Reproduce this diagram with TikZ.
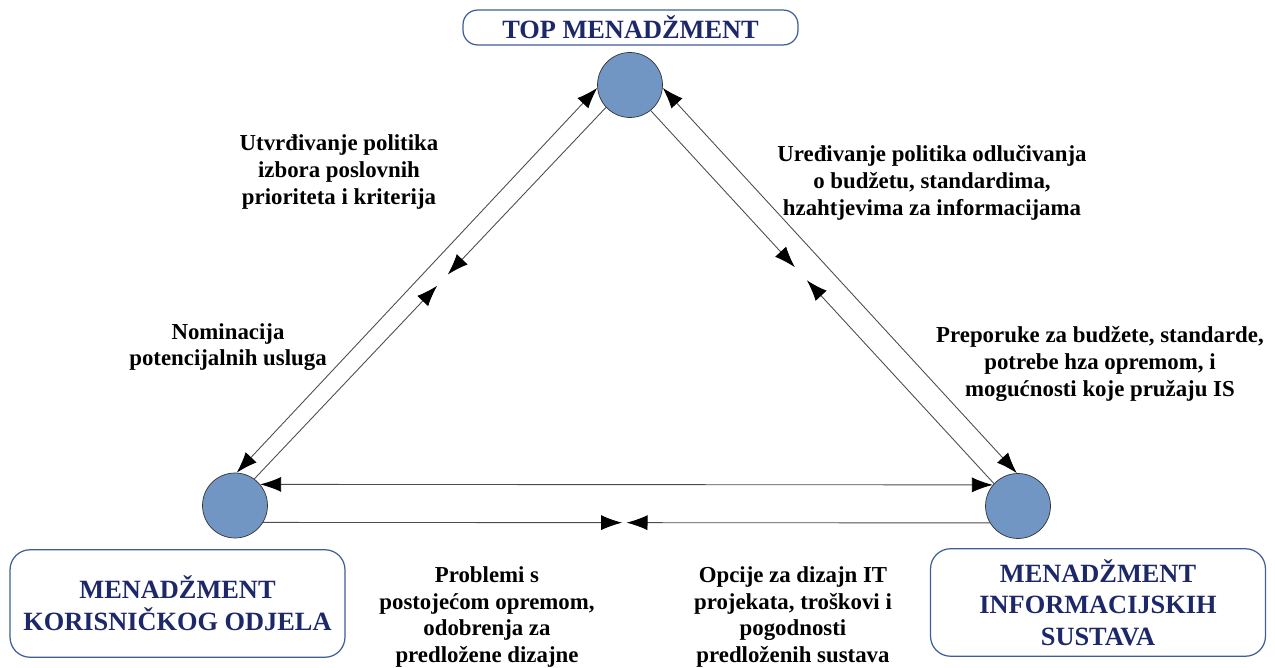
\documentclass[tikz,border=0pt]{standalone}
\usepackage{fontspec}
\setmainfont{Liberation Serif}
\usetikzlibrary{arrows.meta,calc}
\definecolor{blob}{HTML}{7196C4}
\definecolor{boxline}{HTML}{3F5E96}
\definecolor{boxtext}{HTML}{1C2868}
\tikzstyle{actor}=[circle, draw=black!80, fill=blob, inner sep=0pt, minimum size=1.3cm]
\tikzstyle{group}=[draw=boxline, line width=0.7pt, rounded corners=0.4cm, text=boxtext, align=center,
    font=\bfseries\fontsize{15}{18}\selectfont, minimum width=6.7cm, minimum height=2.15cm]
\tikzstyle{note}=[align=center, font=\bfseries\fontsize{13}{15.2}\selectfont]
\newcommand{\actor}{\node[actor]}

\begin{document}
\begin{tikzpicture}[x=0.02cm, y=-0.02cm
    ,every edge/.style={draw, black!70, line width=0.5pt}
    ,>={Latex[length=0.42cm,width=0.3cm,color=black]}
]
\useasboundingbox (0,0) rectangle (1275,668);
\actor (top) at (630,85) {};
\actor (usr) at (235,505.5) {};
\actor (ism) at (1018,506) {};
\node[group, minimum height=0.58cm, rounded corners=0.29cm] (toplbl) at (630.5,27.5) {TOP MENADŽMENT};
\node[group] (usrlbl) at (177.5,603.5) {MENADŽMENT\\KORISNIČKOG ODJELA};
\node[group] (ismlbl) at (1098,602.5) {MENADŽMENT\\INFORMACIJSKIH\\SUSTAVA};
\coordinate (lm1) at ($(top.223)!0.45!(usr.54)$);
\coordinate (lm2) at ($(top.223)!0.48!(usr.54)$);
\coordinate (rm1) at ($(top.309)!0.42!(ism.137)$);
\coordinate (rm2) at ($(top.309)!0.455!(ism.137)$);
\coordinate (bm1) at ($(usr.329)!0.494!(ism.211)$);
\coordinate (bm2) at ($(usr.329)!0.5!(ism.211)$);
\path
(usr.87) edge[<->] (top.185)
(top.223) edge[->] (lm1)
(usr.54) edge[->] (lm2)
(top.355) edge[<->] (ism.92)
(top.309) edge[->] (rm1)
(ism.137) edge[->] (rm2)
(usr.40) edge[<->] (ism.140)
(usr.329) edge[->] (bm1)
(ism.211) edge[->] (bm2)
;
\node[note] (lbl1) at (339,172) {Utvrđivanje politika\\izbora poslovnih\\prioriteta i kriterija};
\node[note] (lbl2) at (228,347) {Nominacija\\potencijalnih usluga};
\node[note] (lbl3) at (932,183) {Uređivanje politika odlučivanja\\o budžetu, standardima,\\hzahtjevima za informacijama};
\node[note] (lbl4) at (1100,364) {Preporuke za budžete, standarde,\\potrebe hza opremom, i\\mogućnosti koje pružaju IS};
\node[note] (lbl5) at (487,617) {Problemi s\\postojećom opremom,\\odobrenja za\\predložene dizajne};
\node[note] (lbl6) at (793,617) {Opcije za dizajn IT\\projekata, troškovi i\\pogodnosti\\predloženih sustava};
\end{tikzpicture}
\end{document}
